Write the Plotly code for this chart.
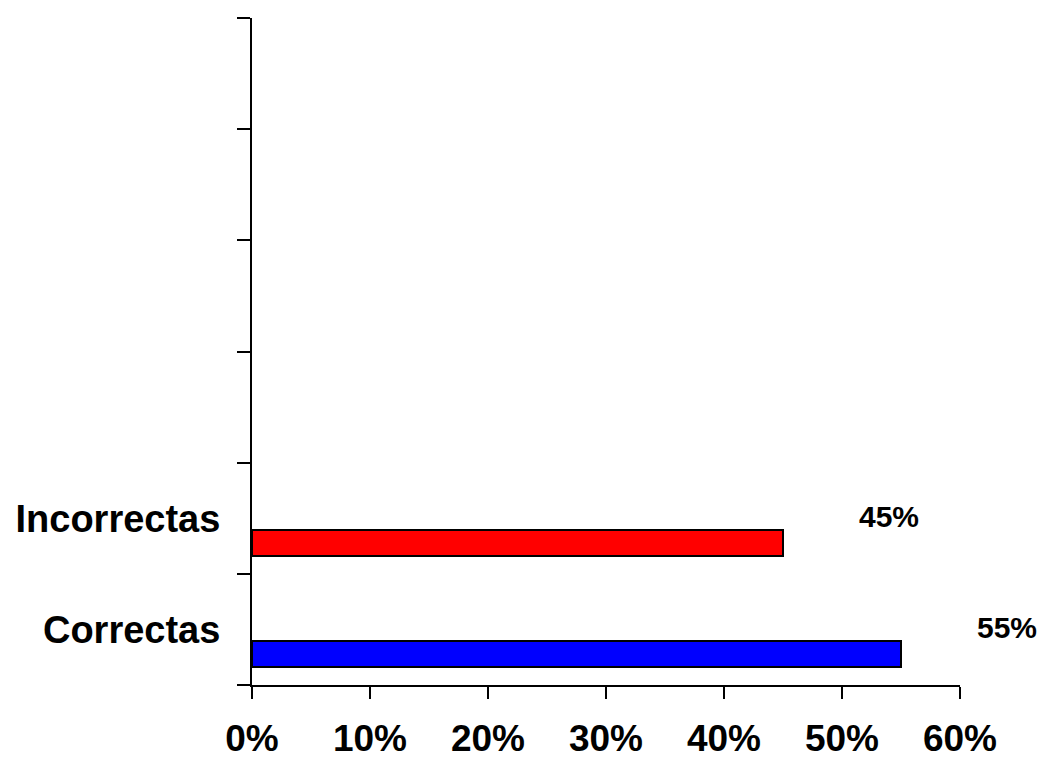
import plotly.graph_objects as go

categories = ["Correctas", "Incorrectas"]
values = [55, 45]
colors = ["#0000ff", "#ff0000"]
x_ticks = [0, 10, 20, 30, 40, 50, 60]
n_slots = 6

slot_idx = list(range(len(categories)))
FONT = "Liberation Sans, Arial, sans-serif"
X_MAX = x_ticks[-1]

fig = go.Figure()
fig.add_trace(go.Bar(
    x=values, y=slot_idx, orientation="h",
    width=0.235, offset=0.163,
    marker=dict(color=colors, line=dict(color="black", width=2)),
    showlegend=False, hoverinfo="skip",
))
for i, v in zip(slot_idx, values):
    fig.add_annotation(
        x=(v + 9.0) / X_MAX, y=(i + 0.52) / n_slots,
        xref="x domain", yref="y domain",
        text=f"{v}%", showarrow=False, xanchor="center", yanchor="middle",
        font=dict(family=FONT, size=30, color="black", weight="bold"),
    )

fig.update_layout(
    width=1043, height=762,
    margin=dict(l=252, r=83, t=18, b=77, autoexpand=False),
    plot_bgcolor="white", paper_bgcolor="white",
    bargap=0,
)
fig.update_xaxes(
    range=[0, X_MAX], tickvals=x_ticks, ticktext=[f"{t}%" for t in x_ticks],
    showline=True, linewidth=2, linecolor="black",
    ticks="outside", ticklen=12, tickwidth=2, tickcolor="black",
    showgrid=False, zeroline=False, automargin=False,
    tickfont=dict(family=FONT, size=37, color="black", weight="bold"),
    ticklabelstandoff=8,
)
fig.update_yaxes(
    range=[0, n_slots],
    tickvals=[i + 0.5 for i in slot_idx], ticktext=categories,
    ticks="outside", ticklen=0, tickcolor="black",
    minor=dict(tickvals=list(range(n_slots + 1)), ticks="outside",
               ticklen=13, tickwidth=2, tickcolor="black", showgrid=False),
    showline=True, linewidth=2, linecolor="black",
    showgrid=False, zeroline=False, automargin=False,
    tickfont=dict(family=FONT, size=38, color="black", weight="bold"),
    ticklabelstandoff=22,
)

fig.write_html("out.html")
